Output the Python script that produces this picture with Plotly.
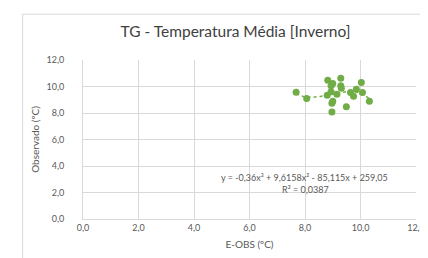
import numpy as np
import plotly.graph_objects as go

# Data
eobs = [7.68, 8.06, 8.82, 9.00, 8.94, 9.29, 9.29, 9.31, 8.80, 8.94, 9.15,
        9.00, 8.97, 8.97, 9.49, 9.64, 9.75, 9.85, 10.03, 10.07, 10.32]
observado = [9.57, 9.09, 10.48, 10.23, 10.05, 10.63, 10.05, 9.87, 9.34, 9.60, 9.42,
             8.88, 8.73, 8.08, 8.48, 9.54, 9.26, 9.80, 10.30, 9.54, 8.88]
# Trendline coefficients shown on the chart (cubic)
coef = [-0.36, 9.6158, -85.115, 259.05]
eq_text = "y = -0,36x³ + 9,6158x² - 85,115x + 259,05"
r2_text = "R² = 0,0387"
title = "TG - Temperatura Média [Inverno]"
xtitle = "E-OBS (ºC)"
ytitle = "Observado (ºC)"
tickvals = [0, 2, 4, 6, 8, 10, 12]

green = "#70AD47"
font = "Lato, 'Open Sans', sans-serif"
gray = "#595959"

xt = np.linspace(min(eobs), max(eobs), 100)
yt = np.polyval(coef, xt)

fig = go.Figure()
fig.add_trace(go.Scatter(x=xt, y=yt, mode="lines",
                         line=dict(color=green, width=1.5, dash="dot"),
                         hoverinfo="skip", showlegend=False))
fig.add_trace(go.Scatter(x=eobs, y=observado, mode="markers",
                         marker=dict(color=green, size=7),
                         showlegend=False))

fig.update_layout(
    width=428, height=258,
    margin=dict(l=75, r=11, t=52, b=47),
    paper_bgcolor="white", plot_bgcolor="white",
    separators=",.",
    title=dict(text=title, xref="container", x=227.5 / 428, xanchor="center",
               yref="container", y=1 - 23.5 / 258, yanchor="middle",
               font=dict(family=font, size=15.5, color="#404040")),
    xaxis=dict(range=[0, 12], tickvals=tickvals, tickformat=".1f",
               showgrid=True, gridcolor="#D9D9D9", gridwidth=1,
               zeroline=False, showline=True, linecolor="#D9D9D9",
               ticks="", ticklabelstandoff=0,
               tickfont=dict(family=font, size=9, color=gray),
               title=dict(text=xtitle, font=dict(family=font, size=10, color=gray), standoff=9)),
    yaxis=dict(range=[0, 12], tickvals=tickvals, tickformat=".1f",
               showgrid=True, gridcolor="#D9D9D9", gridwidth=1,
               zeroline=False, showline=True, linecolor="#D9D9D9",
               ticks="", ticklabelstandoff=16,
               tickfont=dict(family=font, size=9, color=gray),
               title=dict(text=ytitle, font=dict(family=font, size=10, color=gray), standoff=4)),
    annotations=[
        dict(x=0.666, y=0.262, xref="paper", yref="paper", text=eq_text, showarrow=False,
             xanchor="center", yanchor="middle",
             font=dict(family=font, size=9, color=gray)),
        dict(x=0.668, y=0.185, xref="paper", yref="paper", text=r2_text, showarrow=False,
             xanchor="center", yanchor="middle",
             font=dict(family=font, size=9, color=gray)),
    ],
    shapes=[dict(type="rect", xref="paper", yref="paper",
                 x0=-62 / 342, x1=1.1, y0=-46.3 / 158, y1=1 + 45.5 / 158,
                 line=dict(color="#D9D9D9", width=1), layer="below")],
)

fig.write_html("out.html")
